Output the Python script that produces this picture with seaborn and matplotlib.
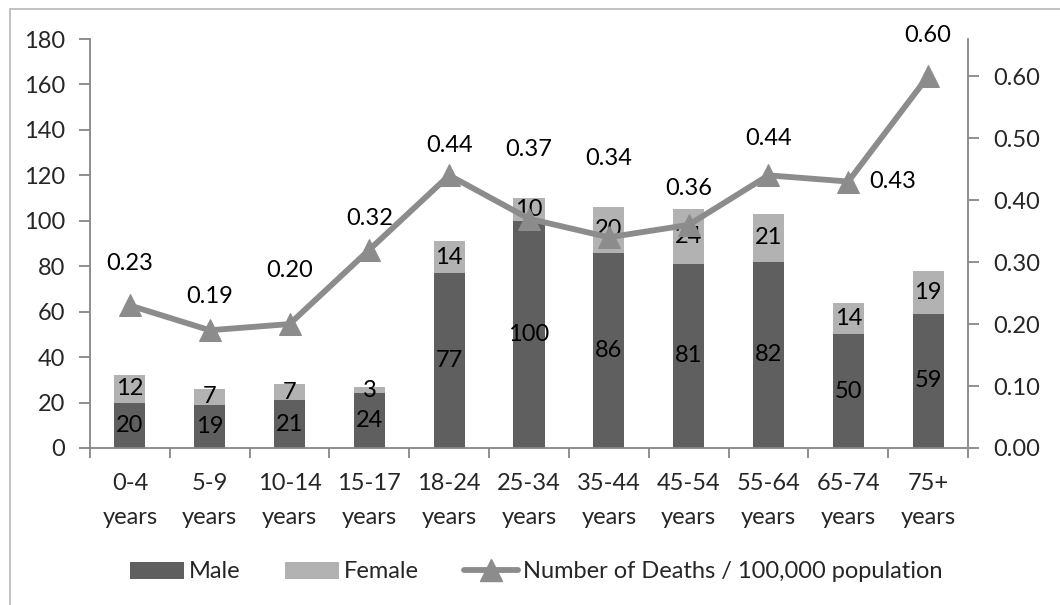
import numpy as np
import pandas as pd
import matplotlib
matplotlib.use("Agg")
import matplotlib.pyplot as plt
from matplotlib.lines import Line2D
from matplotlib.patches import Patch
import seaborn as sns

# Deaths by age group and sex, with the rate per 100,000 population
age_groups = ["0-4\nyears", "5-9\nyears", "10-14\nyears", "15-17\nyears", "18-24\nyears",
              "25-34\nyears", "35-44\nyears", "45-54\nyears", "55-64\nyears", "65-74\nyears",
              "75+\nyears"]
male = [20, 19, 21, 24, 77, 100, 86, 81, 82, 50, 59]
female = [12, 7, 7, 3, 14, 10, 20, 24, 21, 14, 19]
rate = [0.23, 0.19, 0.20, 0.32, 0.44, 0.37, 0.34, 0.36, 0.44, 0.43, 0.60]

# Label offsets (pixels) for the rate annotations
rate_label_offsets = [(0, 42), (0, 34), (0, 54), (0, 31), (0, 30), (0, 69),
                      (0, 79), (0, 36), (0, 37), (44, 0), (0, 41)]

MALE_C = "#5f5f5f"
FEMALE_C = "#b2b2b2"
LINE_C = "#8c8c8c"
AXIS_C = "#868686"

sns.set_theme(style="white")
plt.rcParams["font.family"] = ["Lato", "DejaVu Sans"]
FS = 17

df = pd.DataFrame({"age": age_groups, "male": male, "female": female})
df["total"] = df["male"] + df["female"]

fig = plt.figure(figsize=(10.6, 6.05), dpi=100)
W, H = 1060, 605
ax = fig.add_axes([90 / W, (H - 448) / H, (968 - 90) / W, (448 - 39) / H])

bw = 0.39
sns.barplot(data=df, x="age", y="total", color=FEMALE_C, width=bw, ax=ax,
            saturation=1, linewidth=0, order=age_groups)
sns.barplot(data=df, x="age", y="male", color=MALE_C, width=bw, ax=ax,
            saturation=1, linewidth=0, order=age_groups)

ax.set_xlim(-0.5, len(age_groups) - 0.5)
ax.set_ylim(0, 180)
ax.set_yticks(np.arange(0, 181, 20))
ax.set_xlabel("")
ax.set_ylabel("")

# segment labels
for i, (m, f) in enumerate(zip(male, female)):
    ax.text(i, m / 2, f"{m}", ha="center", va="center", fontsize=FS, color="black")
    ax.text(i, m + f / 2, f"{f}", ha="center", va="center", fontsize=FS, color="black")

for side in ["top", "right"]:
    ax.spines[side].set_visible(False)
for side in ["left", "bottom"]:
    ax.spines[side].set_color(AXIS_C)
    ax.spines[side].set_linewidth(1.3)

ax.set_xticks(np.arange(len(age_groups)))
ax.set_xticklabels(age_groups, fontsize=FS, linespacing=1.75)
ax.set_xticks(np.arange(-0.5, len(age_groups), 1.0), minor=True)
ax.tick_params(axis="x", which="major", length=0, pad=18)
ax.tick_params(axis="x", which="minor", length=7, width=1.3, color=AXIS_C, direction="out",
               bottom=True)
ax.tick_params(axis="y", length=8, width=1.3, color=AXIS_C, direction="out",
               labelsize=FS, pad=10, left=True)

# rate line on secondary axis
ax2 = ax.twinx()
x_pos = np.arange(len(age_groups))
sns.lineplot(x=x_pos, y=rate, ax=ax2, color=LINE_C, linewidth=4.2, marker="^",
             markersize=16, markeredgecolor=LINE_C, markerfacecolor=LINE_C, legend=False)
ax2.set_ylim(0, 0.66)
ax2.set_yticks(np.arange(0, 0.61, 0.10))
ax2.set_yticklabels([f"{v:.2f}" for v in np.arange(0, 0.61, 0.10)])
ax2.set_xlim(-0.5, len(age_groups) - 0.5)
for side in ["top", "left", "bottom"]:
    ax2.spines[side].set_visible(False)
ax2.spines["right"].set_color(AXIS_C)
ax2.spines["right"].set_linewidth(1.3)
ax2.tick_params(axis="y", length=8, width=1.3, color=AXIS_C, direction="out",
                labelsize=FS, pad=10, right=True)
ax2.grid(False)
ax.grid(False)

for i, (v, off) in enumerate(zip(rate, rate_label_offsets)):
    ax2.annotate(f"{v:.2f}", xy=(i, v), xytext=off, textcoords="offset pixels",
                 ha="center", va="center", fontsize=FS, color="black")

# legend
handles = [
    Patch(facecolor=MALE_C, edgecolor="none", label="Male"),
    Patch(facecolor=FEMALE_C, edgecolor="none", label="Female"),
    Line2D([0], [0], color=LINE_C, linewidth=4.2, marker="^", markersize=16,
           label="Number of Deaths / 100,000 population"),
]
fig.legend(handles=handles, loc="center", bbox_to_anchor=(536 / W, 1 - 572 / H), ncol=3,
           frameon=False, fontsize=FS, handlelength=2.3, handleheight=0.7,
           handletextpad=0.2, columnspacing=1.9)

# chart frame (left and top edges)
fig.add_artist(Line2D([10 / W, 10 / W], [0, 1 - 9 / H], color="#b8b8b8", linewidth=1.2,
                      transform=fig.transFigure))
fig.add_artist(Line2D([10 / W, 1], [1 - 9 / H, 1 - 9 / H], color="#b8b8b8", linewidth=1.2,
                      transform=fig.transFigure))

fig.savefig("out.png", dpi=100, facecolor="white")
